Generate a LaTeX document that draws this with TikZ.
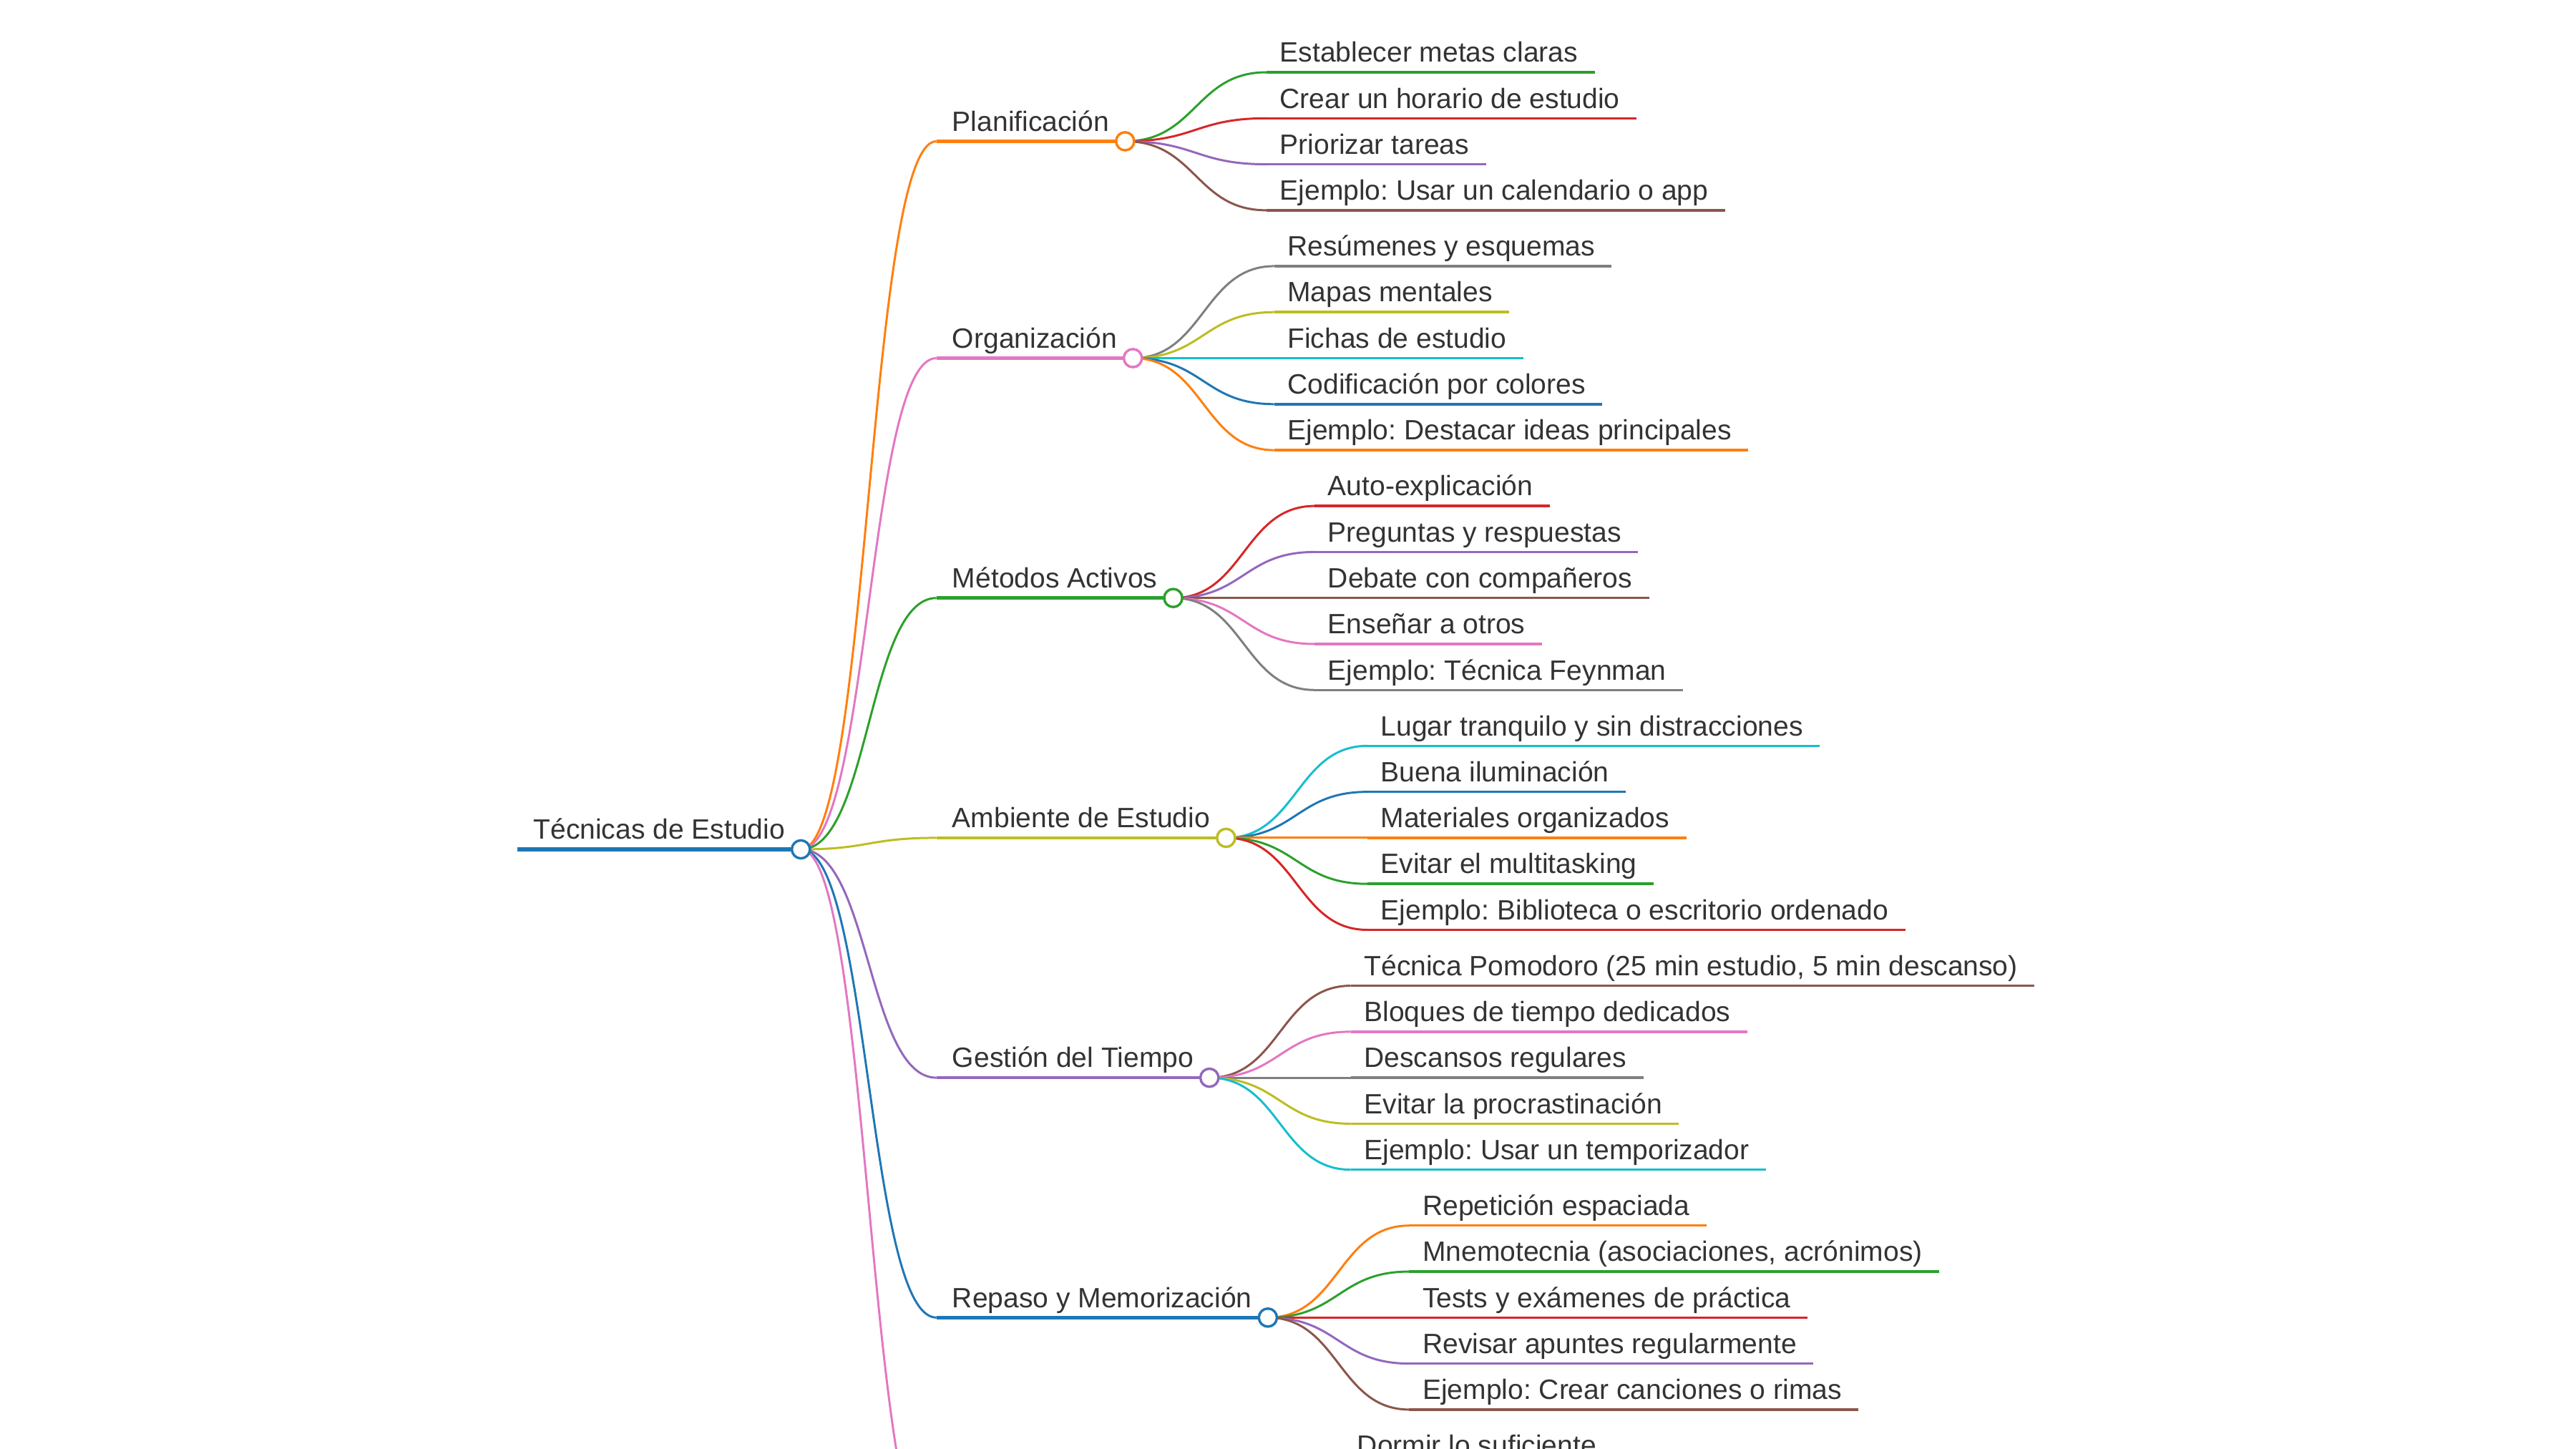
\documentclass[tikz,border=0pt]{standalone}
\usepackage{fontspec}
\setmainfont{Liberation Sans}
\frenchspacing
\usetikzlibrary{calc,positioning}

\definecolor{mblue}{HTML}{1F77B4}
\definecolor{morange}{HTML}{FF7F0E}
\definecolor{mgreen}{HTML}{2CA02C}
\definecolor{mred}{HTML}{D62728}
\definecolor{mpurple}{HTML}{9467BD}
\definecolor{mbrown}{HTML}{8C564B}
\definecolor{mpink}{HTML}{E377C2}
\definecolor{mgray}{HTML}{7F7F7F}
\definecolor{molive}{HTML}{BCBD22}
\definecolor{mcyan}{HTML}{17BECF}
\definecolor{txtgray}{HTML}{333333}

\tikzset{
  lbl/.style={anchor=south west, inner xsep=9.5pt, inner ysep=2pt, text height=12.5pt, text depth=4pt,
    font=\fontsize{17}{20}\selectfont, text=txtgray},
  leaf/.style={lbl, inner xsep=8pt},
  link/.style={line width=1.3pt},
  under0/.style={line width=3pt},
  under1/.style={line width=2pt},
  under2/.style={line width=1.5pt},
  dot/.style={circle, draw=#1, fill=white, line width=1.5pt, inner sep=0pt, minimum size=11pt},
}

\begin{document}
\begin{tikzpicture}[x=1pt,y=-1pt]
\useasboundingbox (0,0) rectangle (1568,882);
\clip (0,0) rectangle (1568,882);

% root
\node[lbl] (root) at (315,517) {Técnicas de Estudio};
\draw[under0, mblue] (root.south west) -- (root.south east);

% Planificación
\node[lbl] (pl) at (570,86) {Planificación};
\draw[link, morange] (root.south east) .. controls +(42,0) and +(-42,0) .. (pl.south west);
\draw[under1, morange] (pl.south west) -- (pl.south east);
\foreach \t/\c [count=\i, evaluate=\i as \dy using 28*\i-70] in {Establecer metas claras/mgreen,
    Crear un horario de estudio/mred, Priorizar tareas/mpurple, Ejemplo: Usar un calendario o app/mbrown}{
  \node[leaf] (pl\i) at ($(pl.south east)+(86,\dy)$) {\t};
  \draw[link, \c] (pl.south east) .. controls +(43,0) and +(-43,0) .. (pl\i.south west);
  \draw[under2, \c] (pl\i.south west) -- ([xshift=2pt]pl\i.south east);
}

% Organización
\node[lbl] (or) at (570,218) {Organización};
\draw[link, mpink] (root.south east) .. controls +(42,0) and +(-42,0) .. (or.south west);
\draw[under1, mpink] (or.south west) -- (or.south east);
\foreach \t/\c [count=\i, evaluate=\i as \dy using 28*\i-84] in {Resúmenes y esquemas/mgray,
    Mapas mentales/molive, Fichas de estudio/mcyan, Codificación por colores/mblue,
    Ejemplo: Destacar ideas principales/morange}{
  \node[leaf] (or\i) at ($(or.south east)+(86,\dy)$) {\t};
  \draw[link, \c] (or.south east) .. controls +(43,0) and +(-43,0) .. (or\i.south west);
  \draw[under2, \c] (or\i.south west) -- ([xshift=2pt]or\i.south east);
}

% Métodos Activos
\node[lbl] (me) at (570,364) {Métodos Activos};
\draw[link, mgreen] (root.south east) .. controls +(42,0) and +(-42,0) .. (me.south west);
\draw[under1, mgreen] (me.south west) -- (me.south east);
\foreach \t/\c [count=\i, evaluate=\i as \dy using 28*\i-84] in {Auto-explicación/mred,
    Preguntas y respuestas/mpurple, Debate con compañeros/mbrown, Enseñar a otros/mpink,
    Ejemplo: Técnica Feynman/mgray}{
  \node[leaf] (me\i) at ($(me.south east)+(86,\dy)$) {\t};
  \draw[link, \c] (me.south east) .. controls +(43,0) and +(-43,0) .. (me\i.south west);
  \draw[under2, \c] (me\i.south west) -- ([xshift=2pt]me\i.south east);
}

% Ambiente de Estudio
\node[lbl] (am) at (570,510) {Ambiente de Estudio};
\draw[link, molive] (root.south east) .. controls +(42,0) and +(-42,0) .. (am.south west);
\draw[under1, molive] (am.south west) -- (am.south east);
\foreach \t/\c [count=\i, evaluate=\i as \dy using 28*\i-84] in {Lugar tranquilo y sin distracciones/mcyan,
    Buena iluminación/mblue, Materiales organizados/morange, Evitar el multitasking/mgreen,
    Ejemplo: Biblioteca o escritorio ordenado/mred}{
  \node[leaf] (am\i) at ($(am.south east)+(86,\dy)$) {\t};
  \draw[link, \c] (am.south east) .. controls +(43,0) and +(-43,0) .. (am\i.south west);
  \draw[under2, \c] (am\i.south west) -- ([xshift=2pt]am\i.south east);
}

% Gestión del Tiempo
\node[lbl] (ge) at (570,656) {Gestión del Tiempo};
\draw[link, mpurple] (root.south east) .. controls +(42,0) and +(-42,0) .. (ge.south west);
\draw[under1, mpurple] (ge.south west) -- (ge.south east);
\foreach \t/\c [count=\i, evaluate=\i as \dy using 28*\i-84] in {Técnica Pomodoro (25 min estudio{,} 5 min descanso)/mbrown,
    Bloques de tiempo dedicados/mpink, Descansos regulares/mgray, Evitar la procrastinación/molive,
    Ejemplo: Usar un temporizador/mcyan}{
  \node[leaf] (ge\i) at ($(ge.south east)+(86,\dy)$) {\t};
  \draw[link, \c] (ge.south east) .. controls +(43,0) and +(-43,0) .. (ge\i.south west);
  \draw[under2, \c] (ge\i.south west) -- ([xshift=2pt]ge\i.south east);
}

% Repaso y Memorización
\node[lbl] (re) at (570,802) {Repaso y Memorización};
\draw[link, mblue] (root.south east) .. controls +(42,0) and +(-42,0) .. (re.south west);
\draw[under1, mblue] (re.south west) -- (re.south east);
\foreach \t/\c [count=\i, evaluate=\i as \dy using 28*\i-84] in {Repetición espaciada/morange,
    Mnemotecnia (asociaciones{,} acrónimos)/mgreen, Tests y exámenes de práctica/mred,
    Revisar apuntes regularmente/mpurple, Ejemplo: Crear canciones o rimas/mbrown}{
  \node[leaf] (re\i) at ($(re.south east)+(86,\dy)$) {\t};
  \draw[link, \c] (re.south east) .. controls +(43,0) and +(-43,0) .. (re\i.south west);
  \draw[under2, \c] (re\i.south west) -- ([xshift=2pt]re\i.south east);
}

% branch running off the bottom
\coordinate (bi) at (570,948);
\coordinate (bi-c) at (732,948);
\draw[link, mpink] (root.south east) .. controls +(42,0) and +(-42,0) .. (bi);
\node[leaf] (bi1) at (818,892) {Dormir lo suficiente};
\draw[link, mgray] (bi-c) .. controls +(43,0) and +(-43,0) .. (bi1.south west);

% circles on top
\foreach \n/\c in {root/mblue, pl/morange, or/mpink, me/mgreen, am/molive, ge/mpurple, re/mblue}
  \node[dot=\c] (\n-c) at (\n.south east) {};
\end{tikzpicture}
\end{document}
